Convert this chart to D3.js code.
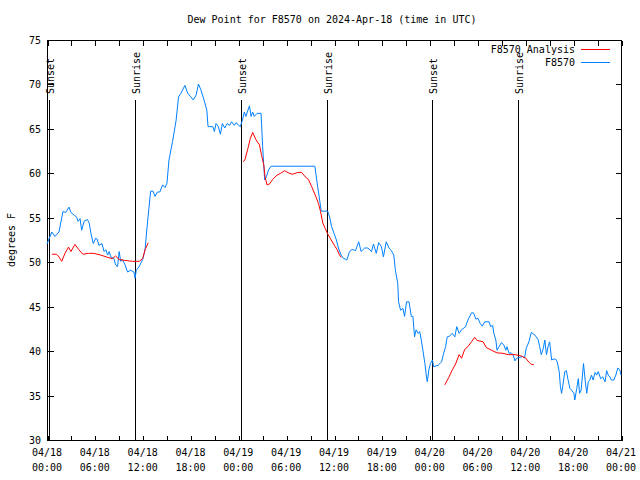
<!DOCTYPE html>
<html><head><meta charset="utf-8">
<script src="https://cdn.jsdelivr.net/npm/d3@7"></script>
<style>body{margin:0;background:#fff}svg{display:block}text{font-family:"DejaVu Sans Mono",monospace;font-size:10px;fill:#000}</style>
</head><body><svg id="c" width="640" height="480"></svg>
<script>
const title = "Dew Point for F8570 on 2024-Apr-18 (time in UTC)";
const yLabel = "degrees F";
const startTime = "2024-04-18T00:00:00Z";
const xTickHours = [0, 6, 12, 18, 24, 30, 36, 42, 48, 54, 60, 66, 72];
const xTickLabels = [["04/18","00:00"],["04/18","06:00"],["04/18","12:00"],["04/18","18:00"],["04/19","00:00"],["04/19","06:00"],["04/19","12:00"],["04/19","18:00"],["04/20","00:00"],["04/20","06:00"],["04/20","12:00"],["04/20","18:00"],["04/21","00:00"]];
const yTicks = [30, 35, 40, 45, 50, 55, 60, 65, 70, 75];
const sunEventHours = [0.2, 11.04, 24.33, 35.12, 48.29, 59.08];
const sunEventLabels = ["Sunset","Sunrise","Sunset","Sunrise","Sunset","Sunrise"];
const seriesNames = ["F8570 Analysis", "F8570"];
const seriesColors = ["#ff0000", "#0080ff"];

const obsHours = [0.0,0.6,1.0,1.5,2.0,2.35,2.76,3.0,3.4,3.7,3.9,4.15,4.35,4.65,5.07,5.3,5.5,5.8,6.1,6.3,6.5,6.9,7.15,7.4,7.6,7.8,8.0,8.4,8.6,8.85,9.05,9.25,9.45,9.8,10.1,10.5,10.9,11.05,11.2,11.55,12.0,12.3,12.6,12.8,13.0,13.3,13.55,13.85,14.15,14.5,14.8,15.05,15.3,15.75,16.2,16.5,16.8,17.3,17.65,18.05,18.35,18.7,19.0,19.3,19.7,20.05,20.2,20.8,21.0,21.2,21.5,21.75,22.0,22.3,22.6,22.9,23.15,23.5,23.7,24.25,24.55,24.75,24.95,25.2,25.4,25.6,25.8,26.0,26.35,26.85,27.05,27.3,27.5,27.8,28.1,33.6,33.95,34.2,34.4,35.2,35.45,35.7,36.0,36.3,36.55,36.9,37.1,37.6,37.95,38.3,38.7,39.1,39.4,39.85,40.25,40.7,40.95,41.3,41.6,41.95,42.2,42.55,42.9,43.2,43.5,43.7,44.0,44.1,44.35,44.65,44.85,45.1,45.4,45.7,45.9,46.1,46.3,46.55,46.75,46.95,47.15,47.4,47.6,47.7,47.9,48.1,48.35,48.5,49.05,49.5,49.75,50.0,50.2,50.5,50.85,51.15,51.4,51.7,52.0,52.3,52.5,52.8,53.25,53.5,53.8,54.05,54.35,54.6,54.9,55.45,55.65,55.9,56.05,56.3,56.45,56.7,57.0,57.3,57.55,57.7,57.95,58.25,58.45,58.7,58.9,59.3,59.7,59.9,60.1,60.45,60.75,61.2,61.6,61.8,62.0,62.25,62.45,62.65,62.85,63.05,63.3,63.5,63.8,64.0,64.25,64.4,64.55,64.75,64.95,65.15,65.35,65.6,65.8,66.1,66.2,66.45,66.65,66.8,67.0,67.3,67.5,67.7,67.9,68.1,68.3,68.5,68.75,68.95,69.15,69.45,69.7,70.0,70.2,70.4,70.6,70.8,71.1,71.35,71.6,71.85,72.0];
const obsValues = [52.05,53.4,52.9,53.4,55.7,55.6,56.2,55.6,55.3,55.1,54.6,54.9,53.6,54.6,54.8,54.4,53.3,52.1,52.7,52.6,51.9,52.1,51.2,51.4,50.8,51.2,50.6,50.4,49.7,49.5,51.2,50.1,50.3,49.7,48.9,49.1,48.9,48.2,49.1,49.5,50.3,51.4,54.4,56.2,58.0,58.0,57.4,57.9,57.9,58.7,58.4,58.9,61.5,63.6,66.0,68.6,69.0,69.9,69.0,68.6,68.25,68.8,70.05,69.4,68.25,67.1,65.25,65.25,64.7,65.6,65.25,64.4,65.6,65.1,65.6,65.4,65.8,65.4,65.7,65.25,66.1,66.9,66.4,67.1,67.6,66.4,66.9,66.4,66.75,66.75,63.0,59.25,59.6,60.4,60.8,60.8,58.5,57.0,55.75,55.75,55.1,54.0,53.25,52.5,51.6,50.8,50.5,50.25,51.2,51.45,51.3,52.3,51.2,51.6,51.6,51.2,52.05,51.0,52.2,51.75,50.6,52.3,51.6,51.3,50.8,49.1,47.6,45.55,44.6,44.8,43.9,45.55,45.55,43.9,43.9,41.6,42.4,42.0,42.2,41.25,40.1,38.6,37.1,36.55,37.9,38.6,39.0,38.25,38.4,38.8,39.75,40.5,41.6,41.7,42.0,41.6,42.75,42.0,42.4,42.6,42.75,43.5,44.3,44.3,43.6,43.7,43.1,42.8,43.3,43.3,42.75,42.9,42.0,41.25,40.1,40.5,40.95,40.7,40.1,40.5,39.75,39.8,39.6,38.9,39.2,39.3,39.4,39.2,40.3,41.05,42.1,41.8,41.3,40.5,39.6,40.3,41.25,39.6,40.5,41.05,39.0,39.1,39.1,38.8,37.7,36.0,35.25,36.4,37.7,37.8,36.8,35.8,35.6,35.25,34.5,35.8,36.9,35.25,35.6,38.6,36.75,35.25,36.55,36.75,37.3,36.75,37.6,37.3,37.7,36.9,37.1,36.55,37.8,37.3,37.1,36.75,36.75,37.3,38.1,37.9,37.3];

// Analysis: three runs separated by gaps (null)
const anaHours = [0.6,1.2,1.5,1.85,2.25,2.7,3.0,3.5,4.0,4.5,5.2,5.9,6.75,7.6,8.2,8.6,9.05,9.8,10.7,11.55,12.0,12.3,12.7,
  null,
  24.65,24.85,25.2,25.5,25.8,26.2,26.65,26.9,27.2,27.35,27.6,27.9,28.3,28.85,29.3,29.8,30.4,30.8,31.45,31.95,32.4,32.8,33.2,33.65,34.05,34.3,34.6,34.9,35.2,35.65,36.05,36.4,36.7,36.9,
  null,
  49.9,50.4,50.85,51.25,51.7,52.0,52.4,52.8,53.25,53.65,53.95,54.7,55.1,55.75,56.45,57.2,57.85,58.7,59.5,60.05,60.5,60.75,61.05];
const anaValues = [50.9,50.9,50.6,50.1,51.0,51.7,51.2,52.0,51.4,50.9,51.0,51.0,50.8,50.55,50.4,50.7,50.3,50.2,50.1,50.1,50.4,51.4,52.2,
  null,
  61.3,61.6,62.8,63.9,64.6,63.8,63.2,62.1,60.9,59.6,58.7,58.8,59.3,59.8,60.0,60.3,60.0,59.9,60.1,60.1,59.6,59.3,58.5,57.55,56.6,55.75,54.4,53.8,53.2,52.5,51.9,51.4,50.8,50.55,
  null,
  36.2,37.05,37.9,38.55,39.6,39.2,40.2,40.5,41.05,41.55,41.2,41.05,40.4,40.1,39.8,39.75,39.6,39.6,39.45,39.2,38.7,38.5,38.5];

const svg = d3.select("#c");
const L = 47, R = 621, T = 40, B = 440;
const t0 = new Date(startTime).getTime();
const toDate = h => new Date(t0 + h * 3600e3);
const x = d3.scaleUtc().domain([toDate(0), toDate(72)]).range([L, R]);
const y = d3.scaleLinear().domain([30, 75]).range([B, T]);

const g = svg.append("g");
// frame
g.append("rect").attr("x", L + 0.5).attr("y", T + 0.5).attr("width", R - L).attr("height", B - T)
  .attr("fill", "none").attr("stroke", "#000").attr("stroke-width", 1).attr("shape-rendering", "crispEdges");

// y ticks (left inward, right inward)
const yl = d3.axisRight(y).tickValues(yTicks).tickSize(6).tickFormat("");
const yr = d3.axisLeft(y).tickValues(yTicks).tickSize(6).tickFormat("");
g.append("g").attr("transform", `translate(${L + 0.5},0)`).call(yl).call(s => s.select(".domain").remove());
g.append("g").attr("transform", `translate(${R + 0.5},0)`).call(yr).call(s => s.select(".domain").remove());
// y tick labels
g.append("g").selectAll("text").data(yTicks).join("text")
  .attr("x", 41).attr("y", d => y(d) + 4).attr("text-anchor", "end").text(d => d);

// x ticks every 3h, inward at bottom and top
const minorHours = d3.range(0, 73, 3);
const xb = d3.axisTop(x).tickValues(minorHours.map(toDate)).tickSize(5).tickFormat("");
const xt = d3.axisBottom(x).tickValues(minorHours.map(toDate)).tickSize(5).tickFormat("");
g.append("g").attr("transform", `translate(0.5,${B + 0.5})`).call(xb).call(s => s.select(".domain").remove());
g.append("g").attr("transform", `translate(0.5,${T + 0.5})`).call(xt).call(s => s.select(".domain").remove());
g.selectAll(".tick line").attr("shape-rendering", "crispEdges");

// x labels
const xl = g.append("g").selectAll("g").data(xTickHours).join("g")
  .attr("transform", (d) => `translate(${x(toDate(d))},0)`);
xl.append("text").attr("y", 456).attr("text-anchor", "middle").text((d, i) => xTickLabels[i][0]);
xl.append("text").attr("y", 471).attr("text-anchor", "middle").text((d, i) => xTickLabels[i][1]);

// sunrise/sunset lines
sunEventHours.forEach((h, i) => {
  const xx = Math.round(x(toDate(h))) + 0.5;
  g.append("line").attr("x1", xx).attr("x2", xx).attr("y1", 100).attr("y2", B)
    .attr("stroke", "#000").attr("stroke-width", 1).attr("shape-rendering", "crispEdges");
  g.append("text").attr("transform", `translate(${xx + 4},94) rotate(-90)`).text(sunEventLabels[i]);
});

// series
const line = d3.line().defined(d => d[1] != null).x(d => x(toDate(d[0]))).y(d => y(d[1]));
const obs = obsHours.map((h, i) => [h, obsValues[i]]);
const ana = anaHours.map((h, i) => [h, anaValues[i]]);
g.append("path").datum(obs).attr("d", line).attr("fill", "none").attr("stroke", seriesColors[1]).attr("stroke-width", 1);
g.append("path").datum(ana).attr("d", line).attr("fill", "none").attr("stroke", seriesColors[0]).attr("stroke-width", 1);

// legend
seriesNames.forEach((n, i) => {
  const ly = 49 + i * 13;
  g.append("text").attr("x", 575).attr("y", ly + 4).attr("text-anchor", "end").text(n);
  g.append("rect").attr("x", 581).attr("width", 29).attr("y", ly).attr("height", 1)
    .attr("fill", seriesColors[i]);
});

// title & y label
svg.append("text").attr("x", 332).attr("y", 23).attr("text-anchor", "middle").text(title);
svg.append("text").attr("transform", "translate(15,240) rotate(-90)").attr("text-anchor", "middle").text(yLabel);
</script></body></html>
